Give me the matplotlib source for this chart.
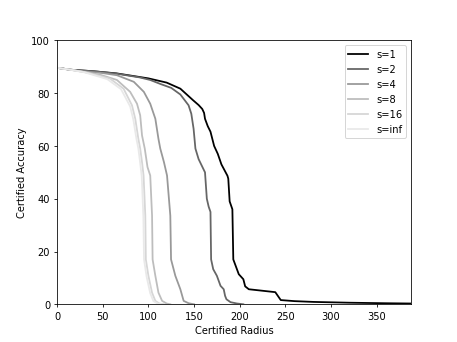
import matplotlib
matplotlib.use("Agg")
import matplotlib.pyplot as plt

labels = ["s=1", "s=2", "s=4", "s=8", "s=16", "s=inf"]
colors = ["#000000", "#666666", "#999999", "#bdbdbd", "#d6d6d6", "#e9e9e9"]

r_s1 = [0, 5, 14, 40, 65, 100, 120, 135, 149, 155, 159, 161, 162, 165, 168, 172, 176, 180, 186.6,
        187.5, 189, 192, 193, 199, 204, 206, 210, 239, 245, 260, 281, 320, 360, 387]
a_s1 = [89.6, 89.4, 88.9, 88.3, 87.5, 85.6, 84.0, 81.7, 77.3, 75.5, 74, 72.5, 70.3, 67.5, 65.4, 60, 57, 53, 48.7,
        47.6, 39, 36, 17, 11.4, 9.5, 6.8, 5.7, 4.6, 1.6, 1.2, 0.9, 0.6, 0.4, 0.3]

r_s2 = [0, 14, 40, 65, 90, 102, 113, 125, 135, 144, 147, 149.5, 151.5, 155, 162, 164, 166, 168, 168.7, 171, 175,
        179, 182.5, 184, 185.5, 190, 197, 204]
a_s2 = [89.6, 88.9, 88.3, 87.4, 86, 85, 83.5, 82, 79.5, 75.4, 72.2, 66.5, 59, 55, 50, 40, 37, 35, 17, 13.3, 10.8,
        7, 5.7, 3.2, 1.9, 0.8, 0.3, 0]

r_s4 = [0, 14, 30, 50, 65.5, 84, 95, 102, 107.6, 111, 113, 117, 120.4, 124, 124.8, 129.5, 135, 138.6, 144, 150]
a_s4 = [89.6, 88.9, 88.2, 87.6, 86.8, 84.3, 80.5, 76, 70.3, 62.7, 59, 53.9, 48.8, 33.6, 17, 10.8, 5.7, 1.3, 0.4, 0]

r_s8 = [0, 14, 30, 47, 65.5, 80, 87.5, 91, 93, 96, 99, 102, 104, 104.6, 107.6, 111, 115, 120, 124]
a_s8 = [89.6, 88.9, 88, 87, 85, 80.5, 76, 71.6, 64, 59, 52, 48.8, 33.6, 17, 10.8, 4.4, 1.3, 0.3, 0]

r_s16 = [0, 14, 30, 58, 72.8, 82, 85.6, 89, 91, 93, 94.7, 96.6, 97.2, 100, 104, 107.6, 112, 117]
a_s16 = [89.6, 88.9, 88, 85.5, 81.7, 75.4, 70.3, 62.7, 59, 53.9, 48.8, 33.6, 17, 10.8, 4.4, 1.3, 0.3, 0]

r_sinf = [0, 14, 30, 55, 70, 80, 83.5, 87, 89, 91, 92.7, 94.5, 95.2, 98, 102, 105.5, 110, 115]
a_sinf = [89.6, 88.9, 87.9, 85.3, 81.5, 75, 70, 62.5, 59, 53.5, 48.5, 33, 17, 10.5, 4.2, 1.2, 0.3, 0]

radii = [r_s1, r_s2, r_s4, r_s8, r_s16, r_sinf]
accs = [a_s1, a_s2, a_s4, a_s8, a_s16, a_sinf]

fig, ax = plt.subplots(figsize=(6.4, 4.8), dpi=457 / 6.4)
for r, a, lab, c in zip(radii, accs, labels, colors):
    ax.plot(r, a, color=c, label=lab, linewidth=1.8)
ax.set_xlim(0, 388)
ax.set_ylim(0, 100)
ax.set_xlabel("Certified Radius")
ax.set_ylabel("Certified Accuracy")
ax.legend(loc="upper right")
fig.savefig("out.png", dpi=457 / 6.4)
